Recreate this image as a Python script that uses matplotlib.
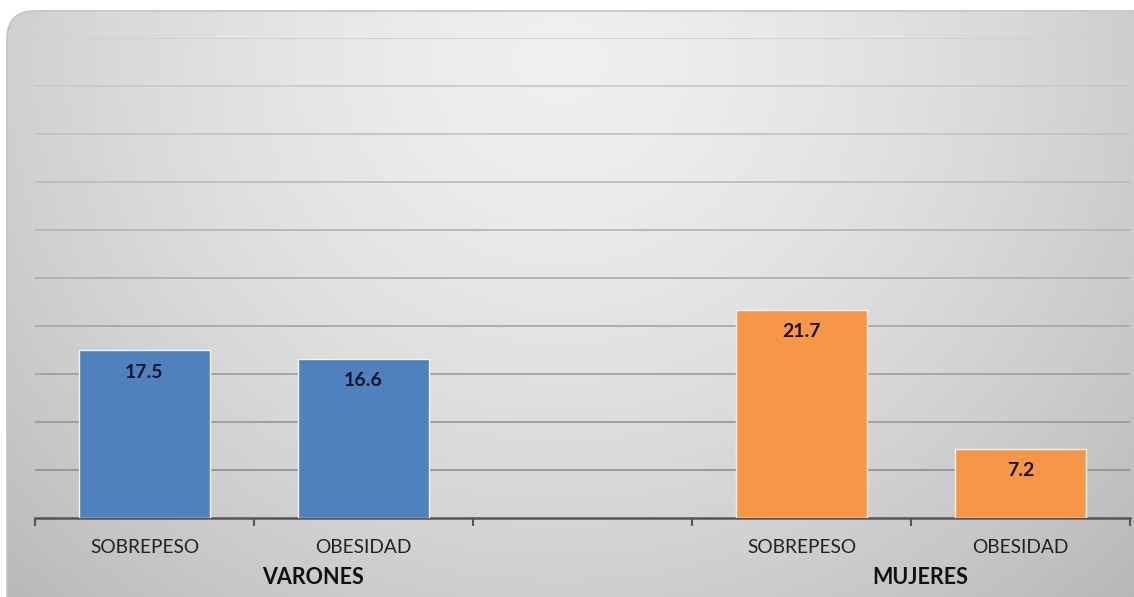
import numpy as np
import matplotlib
matplotlib.use("Agg")
import matplotlib.pyplot as plt
from matplotlib.patches import FancyBboxPatch

# Chart data
categories = ["SOBREPESO", "OBESIDAD", "", "SOBREPESO", "OBESIDAD"]
values = [17.5, 16.6, 0, 21.7, 7.2]
bar_colors = ["#4f81bd", "#4f81bd", "none", "#f79646", "#f79646"]
groups = ["VARONES", "MUJERES"]
group_pos = [0.77, 3.54]

plt.rcParams['font.family'] = ['Lato', 'DejaVu Sans']

fig = plt.figure(figsize=(11.34, 5.97), dpi=100)
W, H = 1134, 597

# Background panel with a soft gradient and rounded corners
bg = fig.add_axes([0, 0, 1, 1])
bg.set_xlim(0, W)
bg.set_ylim(H, 0)
bg.axis("off")
yy, xx = np.mgrid[0:H, 0:W]
d = np.sqrt(((xx - 560) / 680.0) ** 2 + ((yy - 60) / 640.0) ** 2)
shade = 0.94 - 0.17 * d ** 1.5
shade = np.clip(shade, 0.72, 0.95)
img = bg.imshow(np.dstack([shade, shade, shade]), extent=(0, W, H, 0), zorder=0)
panel = FancyBboxPatch((7, 11), W + 20, H + 20, boxstyle="round,pad=0,rounding_size=28",
                       facecolor="none", edgecolor="#c4c4c4", linewidth=1.2, zorder=1)
bg.add_patch(panel)
img.set_clip_path(panel)

# Main axes
ax = fig.add_axes([35 / W, (H - 518) / H, (1130 - 35) / W, (518 - 38) / H])
ax.patch.set_alpha(0)
x = np.arange(len(categories))
edge_colors = ["#f2f2f2" if c != "none" else "none" for c in bar_colors]
bars = ax.bar(x, values, width=0.6, color=bar_colors, edgecolor=edge_colors, linewidth=1, zorder=3)

ax.set_xlim(-0.5, len(categories) - 0.5)
ax.set_ylim(0, 50)
ax.set_yticks(np.arange(5, 51, 5))
ax.yaxis.grid(True, linewidth=1.2, zorder=0)
for i, gl in enumerate(ax.get_ygridlines()):
    c = 0.56 + 0.028 * i
    gl.set_color((c, c, c))
ax.tick_params(axis="y", length=0, labelleft=False)

for s in ["top", "right", "left"]:
    ax.spines[s].set_visible(False)
ax.spines["bottom"].set_color("#555555")
ax.spines["bottom"].set_linewidth(1.8)

# Category ticks at slot boundaries, labels in the middle
ax.set_xticks(np.arange(-0.5, len(categories), 1.0))
ax.set_xticklabels([])
ax.tick_params(axis="x", direction="out", length=6, width=1.5, color="#555555")
for xi, lab in zip(x, categories):
    ax.text(xi, -3.1, lab, ha="center", va="center", fontsize=13.8, color="#222222")
for gp, g in zip(group_pos, groups):
    ax.text(gp, -6.2, g, ha="center", va="center", fontsize=15.5, fontweight="bold", color="#111111")

# Value labels inside the bars
for b, v in zip(bars, values):
    if v > 0:
        ax.annotate(f"{v:.1f}", (b.get_x() + b.get_width() / 2, v), xytext=(0, -22),
                    textcoords="offset pixels", ha="center", va="center",
                    fontsize=14, fontweight="bold", color="#161628", zorder=4)

fig.savefig("out.png", dpi=100)
